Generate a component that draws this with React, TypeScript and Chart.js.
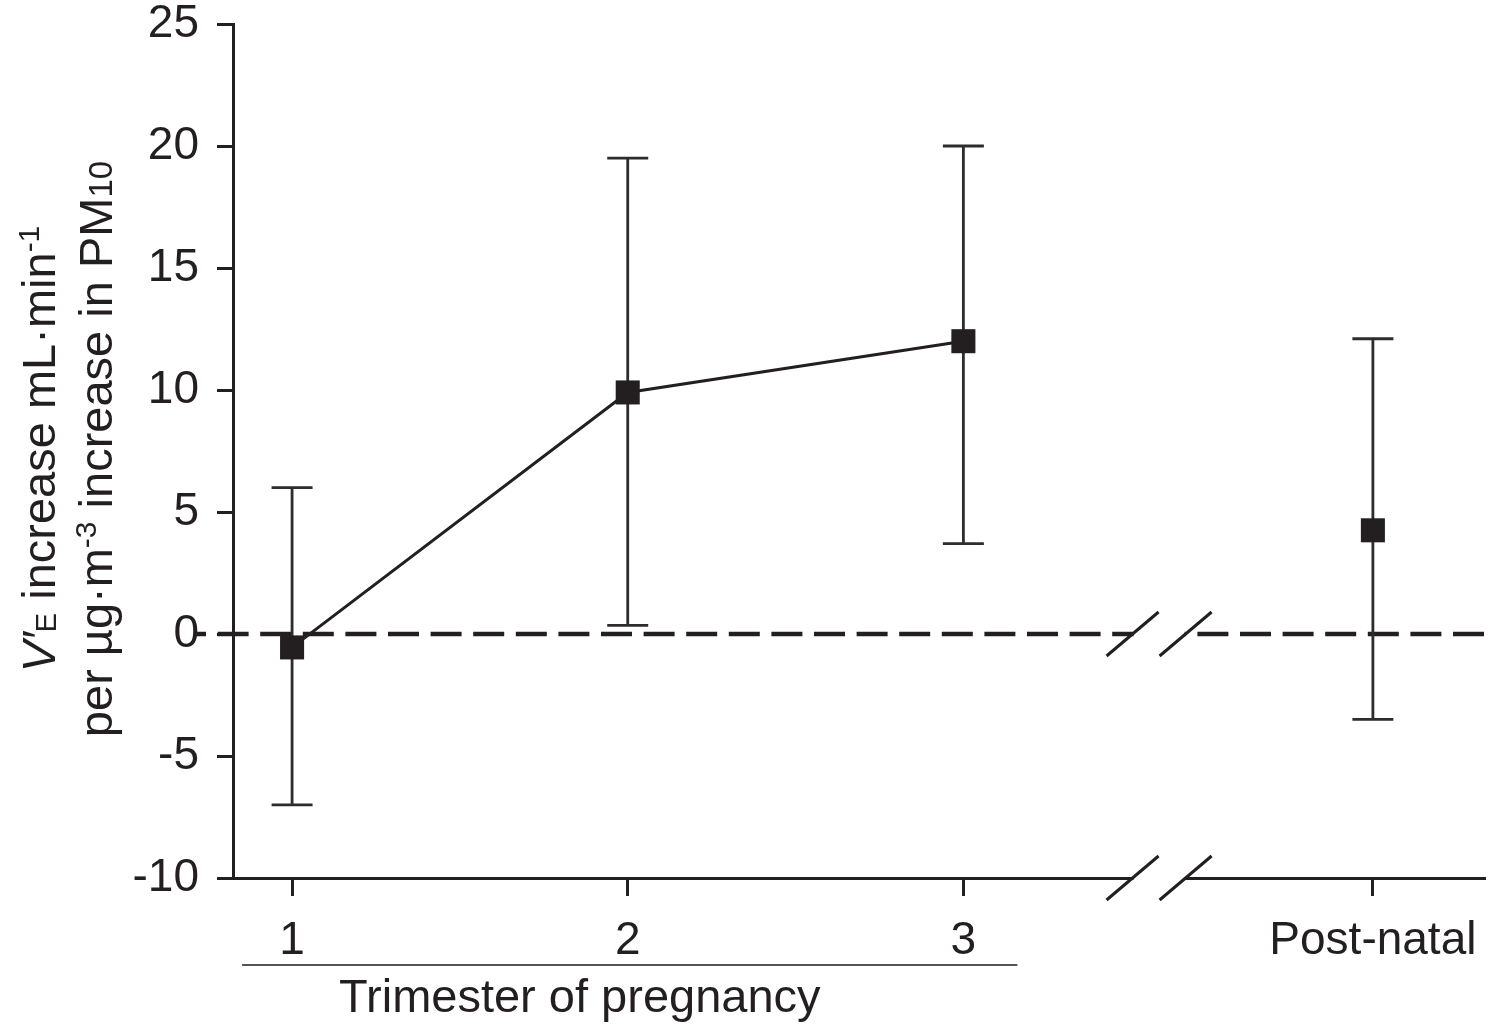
import { useEffect, useRef } from 'react';
import { Chart, ChartConfiguration, Plugin, registerables } from 'chart.js';

Chart.register(...registerables);

// Trimester of pregnancy (joined by a line)
const trimesterLabels = ['1', '2', '3'];
const trimesterX = [1, 2, 3];
const trimesterMean = [-0.55, 9.9, 12.0];
const trimesterLow = [-7.0, 0.35, 3.7];
const trimesterHigh = [6.0, 19.5, 20.0];

// Post-natal (after the axis break)
const postnatalLabel = 'Post-natal';
const postnatalX = 4.22;
const postnatalMean = 4.25;
const postnatalLow = -3.5;
const postnatalHigh = 12.1;

const yMin = -10;
const yMax = 25;
const yStep = 5;

const INK = '#231f20';
const FONT = "'Liberation Sans', Arial, sans-serif";

type Seg = { text: string; size: number; dy?: number; italic?: boolean };

const yTitleLine1: Seg[] = [
  { text: 'V′', size: 47, italic: true },
  { text: 'E', size: 29, dy: 1 },
  { text: ' increase mL·min', size: 47 },
  { text: '-1', size: 30, dy: -16 },
];
const yTitleLine2: Seg[] = [
  { text: 'per µg·m', size: 47 },
  { text: '-3', size: 30, dy: -16 },
  { text: ' increase in PM', size: 47 },
  { text: '10', size: 33, dy: 0 },
];

const segFont = (s: Seg) => `${s.italic ? 'italic ' : ''}${s.size}px ${FONT}`;

const drawSegLine = (ctx: CanvasRenderingContext2D, segs: Seg[], centerX: number, baseline: number) => {
  let total = 0;
  segs.forEach(s => {
    ctx.font = segFont(s);
    total += ctx.measureText(s.text).width;
  });
  let x = centerX - total / 2;
  segs.forEach(s => {
    ctx.font = segFont(s);
    ctx.fillText(s.text, x, baseline + (s.dy || 0));
    x += ctx.measureText(s.text).width;
  });
};

const decorPlugin: Plugin = {
  id: 'decor',
  beforeDatasetsDraw(chart) {
    const { ctx, chartArea, scales } = chart;
    const xs = scales.x;
    const ys = scales.y;
    // dashed zero line
    const y0 = ys.getPixelForValue(0);
    ctx.save();
    ctx.strokeStyle = INK;
    ctx.lineWidth = 4.5;
    ctx.setLineDash([31, 11.6]);
    ctx.lineDashOffset = 20;
    ctx.beginPath();
    ctx.moveTo(chartArea.left - 38, y0);
    ctx.lineTo(chartArea.right, y0);
    ctx.stroke();
    ctx.restore();

    // error bars
    const bars = [
      ...trimesterX.map((x, i) => ({ x, lo: trimesterLow[i], hi: trimesterHigh[i] })),
      { x: postnatalX, lo: postnatalLow, hi: postnatalHigh },
    ];
    ctx.save();
    ctx.strokeStyle = '#2e2c2d';
    ctx.lineWidth = 2.8;
    bars.forEach(b => {
      const px = xs.getPixelForValue(b.x);
      const top = ys.getPixelForValue(b.hi);
      const bot = ys.getPixelForValue(b.lo);
      ctx.beginPath();
      ctx.moveTo(px, top);
      ctx.lineTo(px, bot);
      ctx.moveTo(px - 20.5, top);
      ctx.lineTo(px + 20.5, top);
      ctx.moveTo(px - 20.5, bot);
      ctx.lineTo(px + 20.5, bot);
      ctx.stroke();
    });
    ctx.restore();
  },
  afterDraw(chart) {
    const { ctx, chartArea, scales } = chart;
    const xs = scales.x;
    const ys = scales.y;
    const y0 = ys.getPixelForValue(0);
    const bLeft = xs.getPixelForValue(3.504);
    const bRight = xs.getPixelForValue(3.662);

    // axis break
    ctx.save();
    ctx.fillStyle = '#ffffff';
    ctx.fillRect(bLeft + 1, y0 - 5, bRight - bLeft - 2, 10);
    ctx.fillRect(bLeft + 1, chartArea.bottom - 5, bRight - bLeft - 2, 10);
    ctx.strokeStyle = INK;
    ctx.lineWidth = 3;
    [y0, chartArea.bottom].forEach(cy => {
      [bLeft, bRight].forEach(cx => {
        ctx.beginPath();
        ctx.moveTo(cx - 26, cy + 22);
        ctx.lineTo(cx + 26, cy - 22);
        ctx.stroke();
      });
    });
    ctx.restore();

    // trimester group line and label
    const gLeft = xs.getPixelForValue(trimesterX[0]) - 50;
    const gRight = xs.getPixelForValue(trimesterX[trimesterX.length - 1]) + 54;
    ctx.save();
    ctx.strokeStyle = '#555555';
    ctx.lineWidth = 2;
    ctx.beginPath();
    ctx.moveTo(gLeft, 965);
    ctx.lineTo(gRight, 965);
    ctx.stroke();
    ctx.fillStyle = INK;
    ctx.font = `47px ${FONT}`;
    ctx.textBaseline = 'alphabetic';
    ctx.fillText('Trimester of pregnancy', gLeft + 97, 1012);
    ctx.restore();

    // y axis title
    ctx.save();
    ctx.fillStyle = INK;
    ctx.textBaseline = 'alphabetic';
    ctx.translate(0, 449);
    ctx.rotate(-Math.PI / 2);
    drawSegLine(ctx, yTitleLine1, 0, 55);
    drawSegLine(ctx, yTitleLine2, 0, 112);
    ctx.restore();
  },
};

const App = () => {
  const canvasRef = useRef<HTMLCanvasElement>(null);
  const chartRef = useRef<Chart | null>(null);

  useEffect(() => {
    if (!canvasRef.current) return;
    if (chartRef.current) chartRef.current.destroy();

    const tickValues = [...trimesterX, postnatalX];
    const tickNames = [...trimesterLabels, postnatalLabel];

    const config: ChartConfiguration = {
      type: 'scatter',
      data: {
        datasets: [
          {
            label: 'Trimester',
            data: trimesterX.map((x, i) => ({ x, y: trimesterMean[i] })),
            showLine: true,
            borderColor: INK,
            borderWidth: 3,
            pointStyle: 'rect',
            pointRadius: 17,
            pointBackgroundColor: INK,
            pointBorderWidth: 0,
          },
          {
            label: postnatalLabel,
            data: [{ x: postnatalX, y: postnatalMean }],
            showLine: false,
            pointStyle: 'rect',
            pointRadius: 17,
            pointBackgroundColor: INK,
            pointBorderWidth: 0,
          },
        ],
      },
      options: {
        responsive: false,
        animation: false,
        layout: { autoPadding: false, padding: { top: 24, right: 4, left: 0, bottom: 0 } },
        plugins: {
          legend: { display: false },
          tooltip: { enabled: false },
        },
        scales: {
          x: {
            type: 'linear',
            min: 0.824,
            max: 4.554,
            afterFit: (scale: any) => {
              scale.height = 147;
              scale.paddingLeft = 0;
              scale.paddingRight = 0;
            },
            afterBuildTicks: (scale: any) => {
              scale.ticks = tickValues.map(v => ({ value: v }));
            },
            grid: {
              drawOnChartArea: false,
              drawTicks: true,
              tickLength: 18,
              tickWidth: 3,
              tickColor: INK,
            },
            border: { display: true, width: 3, color: INK },
            ticks: {
              autoSkip: false,
              maxRotation: 0,
              padding: 18,
              color: INK,
              font: { family: FONT, size: 46, lineHeight: 1.2 },
              callback: (v: any) => {
                const i = tickValues.indexOf(Number(v));
                return i >= 0 ? tickNames[i] : '';
              },
            },
          },
          y: {
            min: yMin,
            max: yMax,
            afterFit: (scale: any) => {
              scale.width = 233;
              scale.paddingTop = 0;
              scale.paddingBottom = 0;
            },
            grid: {
              drawOnChartArea: false,
              drawTicks: true,
              tickLength: 16,
              tickWidth: 3,
              tickColor: INK,
            },
            border: { display: true, width: 3, color: INK },
            ticks: {
              stepSize: yStep,
              padding: 18,
              color: INK,
              font: { family: FONT, size: 46, lineHeight: 1 },
            },
          },
        },
      },
      plugins: [decorPlugin],
    };

    chartRef.current = new Chart(canvasRef.current, config);

    return () => {
      if (chartRef.current) {
        chartRef.current.destroy();
        chartRef.current = null;
      }
    };
  }, []);

  return (
    <div style={{ position: 'absolute', left: 0, top: 0, width: 1489, height: 1025, background: '#ffffff' }}>
      <canvas ref={canvasRef} width={1489} height={1025} style={{ width: 1489, height: 1025 }}></canvas>
    </div>
  );
};

export default App;
